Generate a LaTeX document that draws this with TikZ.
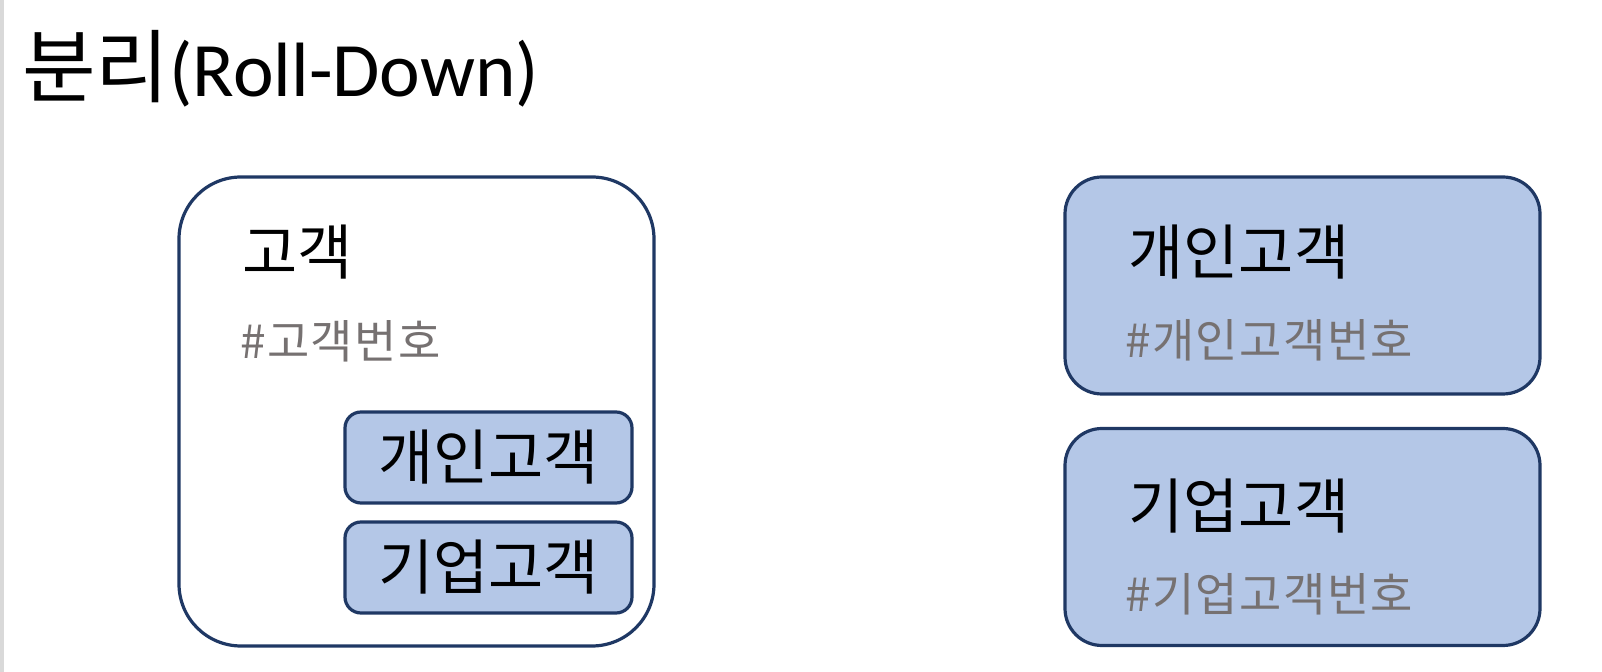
\documentclass[tikz,border=0pt]{standalone}
\usepackage{fontspec}
\setmainfont{Carlito}
\newfontfamily\kr{Noto Sans CJK KR}
\newfontfamily\krsp[LetterSpace=3]{Noto Sans CJK KR}
\definecolor{navy}{HTML}{1F3864}
\definecolor{boxfill}{HTML}{B4C7E7}
\definecolor{graytxt}{HTML}{767171}
\begin{document}
\begin{tikzpicture}[x=0.5pt,y=-0.5pt,
  bigbox/.style={draw=navy,line width=1.6pt,rounded corners=31pt,fill=white,inner sep=0,minimum width=237.5pt,minimum height=234.5pt},
  subbox/.style={draw=navy,line width=1.6pt,rounded corners=8pt,fill=boxfill,inner sep=0,minimum width=143.5pt,minimum height=45.5pt,font=\kr\fontsize{30}{34}\selectfont},
  entbox/.style={draw=navy,line width=1.6pt,rounded corners=18.5pt,fill=boxfill,inner sep=0,minimum width=237.5pt,minimum height=108.5pt},
  entlbl/.style={inner sep=0,anchor=west,font=\kr\fontsize{30}{34}\selectfont},
  keylbl/.style={inner sep=0,anchor=west,text=graytxt,font=\krsp\fontsize{23}{27}\selectfont}]
\useasboundingbox (0,0) rectangle (1602,672);
\fill[black!15] (0,0) rectangle (4,672);
% title
\node[inner sep=0,anchor=base west] (title) at (22,97) {{\kr\fontsize{40}{48}\selectfont 분리}{\fontsize{38.5}{46}\selectfont(Roll-Down)}};
% left big box
\node[bigbox] (cust) at (416.5,411.5) {};
\node[entlbl] (custname) at (242,252) {고객};
\node[keylbl] (custkey) at (240,341) {\#고객번호};
\node[subbox] (sub1) at (488.5,457.5) {개인고객};
\node[subbox] (sub2) at (488.5,567.5) {기업고객};
% right boxes
\node[entbox] (pers) at (1302.5,285.5) {};
\node[entlbl] (persname) at (1128,252) {개인고객};
\node[keylbl] (perskey) at (1125,340) {\#개인고객번호};
\node[entbox] (corp) at (1302.5,537) {};
\node[entlbl] (corpname) at (1128,506) {기업고객};
\node[keylbl] (corpkey) at (1125,594) {\#기업고객번호};
\end{tikzpicture}
\end{document}
